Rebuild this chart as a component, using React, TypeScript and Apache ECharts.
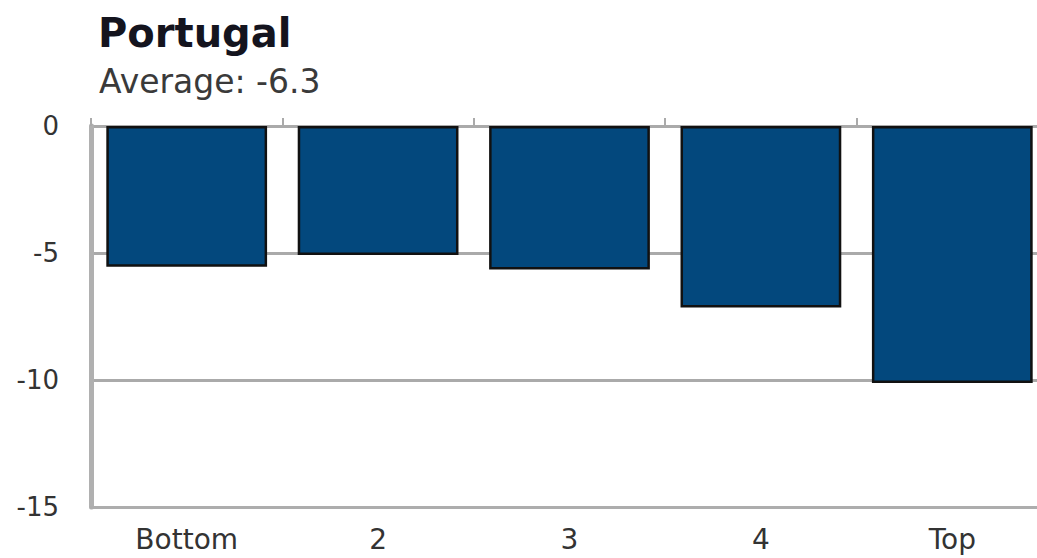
import React, { useEffect, useRef } from "react";
import * as echarts from "echarts";

const titleText = "Portugal";
const subtitleText = "Average: -6.3";
const categories = ["Bottom", "2", "3", "4", "Top"];
const values = [-5.54, -5.08, -5.65, -7.15, -10.12];
const yMin = -15;
const yMax = 0;
const yInterval = 5;

export default function App() {
  const ref = useRef<HTMLDivElement>(null);
  useEffect(() => {
    if (!ref.current) return;
    const chart = echarts.init(ref.current, null, { renderer: "svg" });
    const font = "'DejaVu Sans', Verdana, sans-serif";
    chart.setOption({
      animation: false,
      backgroundColor: "#ffffff",
      title: [
        {
          text: titleText,
          left: 93,
          top: 8,
          textStyle: { fontFamily: font, fontSize: 40, fontWeight: "bold", color: "#14141e" },
        },
        {
          text: subtitleText,
          left: 94,
          top: 60,
          textStyle: { fontFamily: font, fontSize: 33, fontWeight: "normal", color: "#3a3a3a" },
        },
      ],
      grid: {
        left: 91,
        width: 957,
        top: 126,
        bottom: 51,
        containLabel: false,
        outerBoundsMode: "none",
      },
      xAxis: [
        {
          type: "category",
          data: categories,
          position: "bottom",
          axisLine: { onZero: false, lineStyle: { color: "#adadad", width: 3 } },
          axisTick: { show: false },
          axisLabel: {
            fontFamily: font,
            fontSize: 28,
            color: "#333",
            margin: 18,
          },
        },
        {
          type: "category",
          data: categories,
          position: "top",
          axisLine: { show: false },
          axisTick: { show: true, length: 8, lineStyle: { color: "#aaa", width: 2 } },
          axisLabel: { show: false },
        },
      ],
      yAxis: {
        type: "value",
        min: yMin,
        max: yMax,
        interval: yInterval,
        axisLine: { show: true, lineStyle: { color: "#b0b0b0", width: 5 } },
        axisTick: { show: false },
        splitLine: { show: true, lineStyle: { color: "#aaaaaa", width: 3 } },
        axisLabel: {
          fontFamily: font,
          fontSize: 26,
          color: "#333",
          margin: 32,
        },
      },
      series: [
        {
          type: "bar",
          data: values,
          xAxisIndex: 0,
          barCategoryGap: "16%",
          itemStyle: { color: "#03487d", borderColor: "#111", borderWidth: 2.5 },
        },
      ],
    });
    return () => chart.dispose();
  }, []);
  return (
    <div
      ref={ref}
      style={{ position: "fixed", left: 0, top: 0, width: 1037, height: 558, background: "#fff" }}
    />
  );
}
